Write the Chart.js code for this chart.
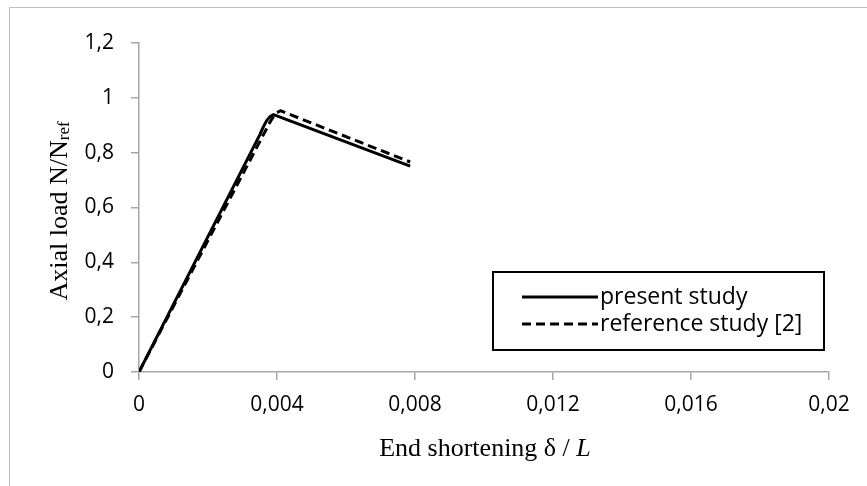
<!DOCTYPE html>
<html>
<head>
	<title>Axial load vs end shortening</title>
	<script src="https://cdn.jsdelivr.net/npm/chart.js@4"></script>
	<style>
		html, body { margin: 0; padding: 0; background: #fff; }
		.chart-container { width: 867px; height: 486px; position: relative; }
	</style>
</head>
<body>
	<div class="chart-container">
		<canvas id="myChart" width="867" height="486"></canvas>
	</div>
	<script>
		// data
		const presentX = [0, 0.0035, 0.0036, 0.0037, 0.0038, 0.0039, 0.00786];
		const presentY = [0, 0.865, 0.893, 0.917, 0.932, 0.939, 0.751];
		const refX = [0, 0.0038, 0.0039, 0.0040, 0.0041, 0.00786];
		const refY = [0, 0.912, 0.932, 0.946, 0.953, 0.766];
		const seriesNames = ['present study', 'reference study [2]'];
		const xTicks = [0, 0.004, 0.008, 0.012, 0.016, 0.02];
		const xTickLabels = ['0', '0,004', '0,008', '0,012', '0,016', '0,02'];
		const yTicks = [0, 0.2, 0.4, 0.6, 0.8, 1, 1.2];
		const yTickLabels = ['0', '0,2', '0,4', '0,6', '0,8', '1', '1,2'];

		const toPoints = (xs, ys) => xs.map((x, i) => ({x: x, y: ys[i]}));
		const axisGrey = '#a6a6a6';
		const tickFont = {family: 'Open Sans', size: 21};

		// frame, axis titles and legend box
		const extras = {
			id: 'extras',
			beforeDraw(chart) {
				const c = chart.ctx;
				c.save();
				c.fillStyle = '#fff';
				c.fillRect(0, 0, chart.width, chart.height);
				c.strokeStyle = '#bcbcbc';
				c.lineWidth = 1;
				c.strokeRect(9.5, 7.5, chart.width + 20, chart.height + 20);
				c.restore();
			},
			afterDraw(chart) {
				const c = chart.ctx;
				c.save();
				c.fillStyle = '#000';
				c.textBaseline = 'alphabetic';

				// x title
				const p1 = 'End shortening δ / ';
				c.font = '26px "Liberation Serif"';
				const w1 = c.measureText(p1).width;
				c.font = 'italic 26px "Liberation Serif"';
				const w2 = c.measureText('L').width;
				const sx = 485 - (w1 + w2) / 2;
				c.font = '26px "Liberation Serif"';
				c.fillText(p1, sx, 456);
				c.font = 'italic 26px "Liberation Serif"';
				c.fillText('L', sx + w1, 456);

				// y title, rotated, with subscript
				c.translate(67, 211);
				c.rotate(-Math.PI / 2);
				const t1 = 'Axial load N/N';
				c.font = '26px "Liberation Serif"';
				const a1 = c.measureText(t1).width;
				c.font = '17px "Liberation Serif"';
				const a2 = c.measureText('ref').width;
				const start = -(a1 + a2) / 2;
				c.font = '26px "Liberation Serif"';
				c.fillText(t1, start, 0);
				c.font = '17px "Liberation Serif"';
				c.fillText('ref', start + a1, 2);
				c.setTransform(1, 0, 0, 1, 0, 0);

				// legend
				c.lineWidth = 2;
				c.strokeStyle = '#000';
				c.strokeRect(493, 272, 331, 78);
				c.font = '23px "Open Sans"';
				c.textBaseline = 'middle';
				chart.data.datasets.forEach((ds, i) => {
					const ly = 297 + i * 27;
					c.lineWidth = ds.borderWidth;
					c.setLineDash(ds.borderDash || []);
					c.beginPath();
					c.moveTo(522, ly);
					c.lineTo(598, ly);
					c.stroke();
					c.setLineDash([]);
					c.fillText(ds.label, 600, ly);
				});
				c.restore();
			}
		};

		const ctx = document.getElementById('myChart').getContext('2d');
		const myChart = new Chart(ctx, {
			type: 'line',
			data: {
				datasets: [{
					label: seriesNames[0],
					data: toPoints(presentX, presentY),
					borderColor: '#000',
					borderWidth: 3,
					pointRadius: 0,
					tension: 0,
					borderJoinStyle: 'round',
					fill: false
				}, {
					label: seriesNames[1],
					data: toPoints(refX, refY),
					borderColor: '#000',
					borderWidth: 3,
					borderDash: [9, 5],
					pointRadius: 0,
					tension: 0,
					borderJoinStyle: 'round',
					fill: false
				}]
			},
			options: {
				responsive: false,
				animation: false,
				layout: {padding: {top: 43, right: 38, left: 0, bottom: 0}},
				plugins: {legend: {display: false}, tooltip: {enabled: false}},
				scales: {
					x: {
						type: 'linear',
						min: 0, max: 0.02,
						afterBuildTicks: s => { s.ticks = xTicks.map(v => ({value: v})); },
						afterFit: s => { s.height = 114; },
						grid: {drawOnChartArea: false, drawTicks: true, tickLength: 8, color: axisGrey, lineWidth: 1.5},
						border: {display: true, color: axisGrey, width: 1.5},
						ticks: {
							font: tickFont, color: '#000', padding: 12, maxRotation: 0,
							callback: (v, i) => xTickLabels[i]
						}
					},
					y: {
						type: 'linear',
						min: 0, max: 1.2,
						afterBuildTicks: s => { s.ticks = yTicks.map(v => ({value: v})); },
						afterFit: s => { s.width = 139; },
						grid: {drawOnChartArea: false, drawTicks: true, tickLength: 8, color: axisGrey, lineWidth: 1.5},
						border: {display: true, color: axisGrey, width: 1.5},
						ticks: {
							font: tickFont, color: '#000', padding: 17,
							callback: (v, i) => yTickLabels[i]
						}
					}
				}
			},
			plugins: [extras]
		});
	</script>
</body>
</html>
